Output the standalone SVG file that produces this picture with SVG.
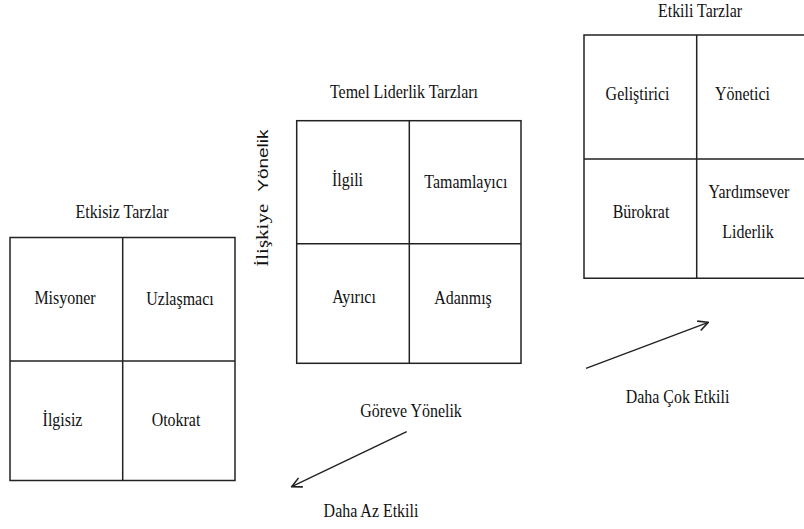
<svg xmlns="http://www.w3.org/2000/svg" width="804" height="529" viewBox="0 0 804 529">
<style>
.t{font-family:'Liberation Serif','Times New Roman',serif;font-size:19px;fill:#111;text-anchor:middle}
.v{font-family:'Liberation Serif','Times New Roman',serif;font-size:21px;fill:#111}
.s{font-family:'Liberation Sans',Arial,sans-serif;font-size:19px}
.g{fill:none;stroke:#222;stroke-width:1.5}
.c{fill:none;stroke:#222;stroke-width:1.4}
</style>
<defs>
<marker id="ah" viewBox="0 0 12 12" refX="11" refY="6" markerWidth="12" markerHeight="12" markerUnits="userSpaceOnUse" orient="auto">
<path d="M1,1 L11,6 L1,11" fill="none" stroke="#222" stroke-width="1.6"/>
</marker>
</defs>
<rect width="804" height="529" fill="#fff"/>

<g id="etkisiz">
<text class="t" transform="matrix(0.84 0 0 1 122 218)">Etkisiz Tarzlar</text>
<rect class="g" x="10" y="237.5" width="225" height="243"/>
<line class="g" x1="122.7" y1="237.5" x2="122.7" y2="480.5"/>
<line class="g" x1="10" y1="361" x2="235" y2="361"/>
<text class="t" transform="matrix(0.84 0 0 1 65 303.5)">Misyoner</text>
<text class="t" transform="matrix(0.84 0 0 1 180 305)">Uzlaşmacı</text>
<text class="t" transform="matrix(0.84 0 0 1 62.5 426)">İlgisiz</text>
<text class="t" transform="matrix(0.84 0 0 1 176 426)">Otokrat</text>
</g>

<g id="temel">
<text class="t" transform="matrix(0.84 0 0 1 404 98.3)">Temel Liderlik Tarzları</text>
<rect class="g" x="296.7" y="120.7" width="224.3" height="242.6"/>
<line class="g" x1="409.3" y1="120.7" x2="409.3" y2="363.3"/>
<line class="g" x1="296.7" y1="243.7" x2="521" y2="243.7"/>
<text class="t" transform="matrix(0.84 0 0 1 347.5 186)">İlgili</text>
<text class="t" transform="matrix(0.84 0 0 1 465.8 187.5)">Tamamlayıcı</text>
<text class="t" transform="matrix(0.84 0 0 1 354 303)">Ayırıcı</text>
<text class="t" transform="matrix(0.84 0 0 1 463 304)">Adanmış</text>
<text class="v" transform="translate(267.5,266.7) rotate(-90) scale(1,0.75)">İlişkiye<tspan class="s" dx="12">Yönelik</tspan></text>
</g>

<g id="etkili">
<text class="t" transform="matrix(0.84 0 0 1 700 17)">Etkili Tarzlar</text>
<path class="g" d="M806,35 H584 V278.3 H806 M696.7,35 V278.3 M584,159 H806"/>
<text class="t" transform="matrix(0.84 0 0 1 637.5 100)">Geliştirici</text>
<text class="t" transform="matrix(0.84 0 0 1 742.5 100)">Yönetici</text>
<text class="t" transform="matrix(0.84 0 0 1 641 218)">Bürokrat</text>
<text class="t" transform="matrix(0.84 0 0 1 749 198)">Yardımsever</text>
<text class="t" transform="matrix(0.84 0 0 1 748 238)">Liderlik</text>
</g>

<g id="connectors">
<line class="c" x1="406.7" y1="431.7" x2="291.7" y2="486.7" marker-end="url(#ah)"/>
<line class="c" x1="586" y1="368.3" x2="708.3" y2="322.3" marker-end="url(#ah)"/>
</g>

<g id="labels">
<text class="t" transform="matrix(0.84 0 0 1 411 416.5)">Göreve Yönelik</text>
<text class="t" transform="matrix(0.84 0 0 1 371 516.5)">Daha Az Etkili</text>
<text class="t" transform="matrix(0.84 0 0 1 677.5 402.5)">Daha Çok Etkili</text>
</g>
</svg>
